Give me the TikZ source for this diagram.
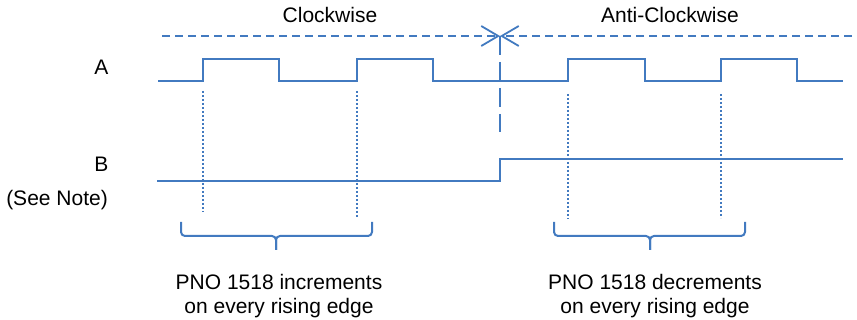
\documentclass[tikz,border=0pt]{standalone}
\usepackage{fontspec}
\setmainfont{Liberation Sans}
\usetikzlibrary{arrows.meta}
\definecolor{wave}{RGB}{66,122,192}
\tikzset{
  sig/.style={draw=wave, line width=2pt, line join=miter},
  guide/.style={draw=wave, line width=2pt, dash pattern=on 2pt off 2pt},
  dir/.style={draw=wave, line width=1.8pt, dash pattern=on 8pt off 5pt},
  split/.style={draw=wave, line width=2pt, dash pattern=on 19pt off 7pt},
  brace/.style={draw=wave, line width=2pt, rounded corners=4pt},
  lbl/.style={font=\fontsize{21}{24}\selectfont, inner sep=0pt, text=black},
  note/.style={font=\fontsize{21}{24.5}\selectfont, inner sep=0pt, align=center, text=black, anchor=north},
  xtip/.style={-{Straight Barb[length=17pt,width=20pt]}}
}
\begin{document}
\begin{tikzpicture}[x=1pt,y=-1pt]
\useasboundingbox (0,0) rectangle (857,320);
% labels
\node[lbl, anchor=base] (cw) at (330,23) {Clockwise};
\node[lbl, anchor=base] (acw) at (670,23) {Anti-Clockwise};
\node[lbl, anchor=base] (la) at (101.5,75) {A};
\node[lbl, anchor=base] (lb) at (101.5,172) {B};
\node[lbl, anchor=base east] (ln) at (108,206) {(See Note)};
\node[note] (inc) at (279,274) {PNO 1518 increments\\on every rising edge};
\node[note] (dec) at (655,274) {PNO 1518 decrements\\on every rising edge};
% direction markers
\coordinate (dl) at (162,36);
\coordinate (dm) at (500,36);
\coordinate (dr) at (852,36);
\coordinate (db) at (500,132);
\draw[dir, xtip] (dl) -- (dm);
\draw[dir, xtip] (dr) -- (dm);
\draw[split] (dm) -- (db);
% waveform A
\draw[sig] (158,81.5) -- (203,81.5) -- (203,59.5) -- (279,59.5) -- (279,81.5)
  -- (357,81.5) -- (357,59.5) -- (433,59.5) -- (433,81.5)
  -- (568,81.5) -- (568,59.5) -- (645,59.5) -- (645,81.5)
  -- (721,81.5) -- (721,59.5) -- (797,59.5) -- (797,81.5) -- (843,81.5);
% waveform B
\draw[sig] (157,181) -- (500,181) -- (500,159) -- (843,159);
% dotted guides
\draw[guide] (203,91) -- (203,212);
\draw[guide] (357,91) -- (357,217);
\draw[guide] (568,94) -- (568,219);
\draw[guide] (721,94) -- (721,218);
% braces
\draw[brace] (181,222) -- (181,236) -- (276,236) -- (276,250);
\draw[brace] (372,222) -- (372,236) -- (276,236) -- (276,250);
\draw[brace] (554,222) -- (554,236) -- (650,236) -- (650,250);
\draw[brace] (745,222) -- (745,236) -- (650,236) -- (650,250);
\end{tikzpicture}
\end{document}
